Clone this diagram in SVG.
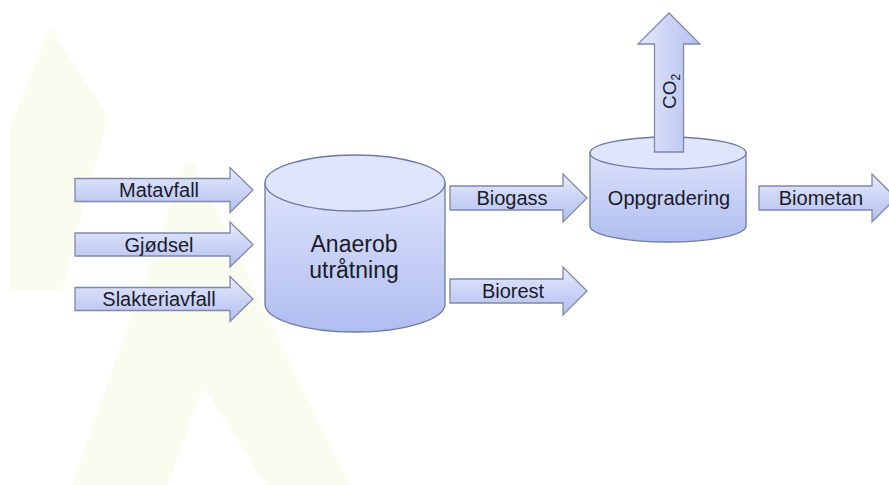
<svg xmlns="http://www.w3.org/2000/svg" width="889" height="485" viewBox="0 0 889 485">
  <defs>
    <linearGradient id="gArrow" x1="0" y1="0" x2="0" y2="1">
      <stop offset="0" stop-color="#e6eafc"/>
      <stop offset="1" stop-color="#b2bff0"/>
    </linearGradient>
    <linearGradient id="gArrowV" x1="0" y1="0" x2="1" y2="0">
      <stop offset="0" stop-color="#e6eafc"/>
      <stop offset="1" stop-color="#b2bff0"/>
    </linearGradient>
    <linearGradient id="gCyl" x1="0" y1="0" x2="0" y2="1">
      <stop offset="0" stop-color="#dde3fb"/>
      <stop offset="1" stop-color="#b0bdf0"/>
    </linearGradient>
    <style>
      .arrow { fill: url(#gArrow); stroke: #7f88a8; stroke-width: 1.3; stroke-linejoin: miter; }
      .arrowv { fill: url(#gArrowV); stroke: #7f88a8; stroke-width: 1.3; }
      .cylbody { fill: url(#gCyl); stroke: #6f7aa0; stroke-width: 1.3; }
      .cyltop { fill: #dfe5fb; stroke: #6f7aa0; stroke-width: 1.3; }
      .lbl { font-family: "Liberation Sans", Arial, sans-serif; font-size: 20px; fill: #1a1b2a; text-anchor: middle; }
      .big { font-size: 23px; }
      .wm { fill: #fafcf0; }
    </style>
  </defs>

  <rect width="889" height="485" fill="#ffffff"/>

  <g id="watermark">
    <polygon class="wm" points="50,27 108,117 62,290 10,290 10,127"/>
    <path class="wm" d="M72,485 L183,168 Q189,158 196,168 L350,485 L266,485 L203,386 L168,485 Z"/>
  </g>

  <g id="anaerob">
    <path class="cylbody" d="M265,183 V304 A90,28 0 0 0 445,304 V183 Z"/>
    <ellipse class="cyltop" cx="355" cy="183" rx="90" ry="28"/>
    <text class="lbl big" x="354" y="252">Anaerob</text>
    <text class="lbl big" x="354" y="278">utråtning</text>
  </g>

  <g id="oppgradering">
    <path class="cylbody" d="M590,153 V226 A78,16 0 0 0 746,226 V153 Z"/>
    <ellipse class="cyltop" cx="668" cy="153" rx="78" ry="16"/>
    <text class="lbl" x="669" y="205">Oppgradering</text>
  </g>

  <g id="connectors">
    <g id="matavfall">
      <path class="arrow" d="M75,178.5 H230 V167.5 L253,190 L230,212.5 V201.5 H75 Z"/>
      <text class="lbl" x="159" y="197">Matavfall</text>
    </g>
    <g id="gjodsel">
      <path class="arrow" d="M75,233 H230 V222 L253,244.5 L230,267 V256 H75 Z"/>
      <text class="lbl" x="159" y="251.5">Gjødsel</text>
    </g>
    <g id="slakteriavfall">
      <path class="arrow" d="M75,287.5 H230 V276.5 L253,299 L230,321.5 V310.5 H75 Z"/>
      <text class="lbl" x="159" y="306">Slakteriavfall</text>
    </g>
    <g id="biogass">
      <path class="arrow" d="M450,186 H563 V174 L587,198 L563,222 V210 H450 Z"/>
      <text class="lbl" x="512" y="205">Biogass</text>
    </g>
    <g id="biorest">
      <path class="arrow" d="M450,279 H563 V267 L587,291 L563,315 V303 H450 Z"/>
      <text class="lbl" x="513" y="298">Biorest</text>
    </g>
    <g id="biometan">
      <path class="arrow" d="M759,186 H872 V174 L896,198 L872,222 V210 H759 Z"/>
      <text class="lbl" x="821" y="205">Biometan</text>
    </g>
    <g id="co2">
      <path class="arrowv" d="M654.5,152 V44 H638 L669,13 L700,44 H683.5 V152 Z"/>
      <text class="lbl" style="font-size:19px;text-anchor:start" transform="translate(676,109) rotate(-90)">CO<tspan dy="4" style="font-size:12px">2</tspan></text>
    </g>
  </g>
</svg>
